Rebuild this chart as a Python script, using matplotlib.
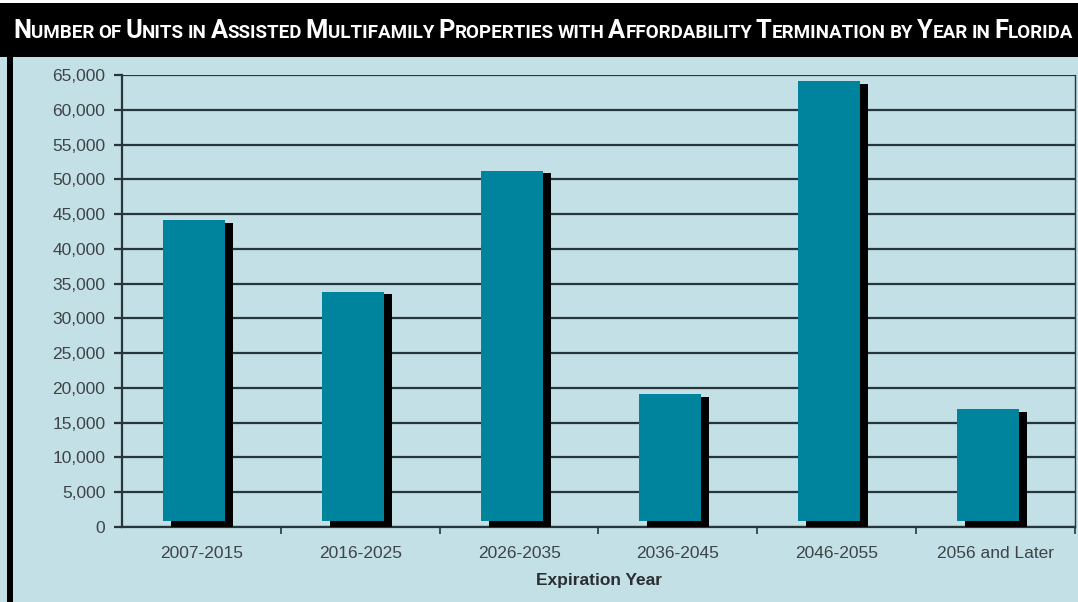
import matplotlib
matplotlib.use('Agg')
import matplotlib.pyplot as plt
from matplotlib import font_manager
from matplotlib.patches import Rectangle

categories = ['2007-2015', '2016-2025', '2026-2035', '2036-2045', '2046-2055', '2056 and Later']
units = [44100, 33800, 51200, 19100, 64100, 16950]
y_ticks = list(range(0, 65001, 5000))
title = 'Number of Units in Assisted Multifamily Properties with Affordability Termination by Year in Florida'
x_label = 'Expiration Year'

W, H = 1078, 602
bg = '#c3e0e6'
teal = '#00839c'
dark = '#26363b'

installed = {f.name for f in font_manager.fontManager.ttflist}
title_family = 'Liberation Sans Narrow' if 'Liberation Sans Narrow' in installed else 'Roboto'
plt.rcParams['font.family'] = ['Liberation Sans', 'DejaVu Sans']

fig = plt.figure(figsize=(W / 100, H / 100), dpi=100, facecolor=bg)

# black title band and left rule
fig.patches.append(Rectangle((0, 1 - 57 / H), 1, 54 / H, transform=fig.transFigure,
                             facecolor='black', edgecolor='none', zorder=0))
fig.patches.append(Rectangle((0, 1 - 3 / H), 1, 3 / H, transform=fig.transFigure,
                             facecolor='white', edgecolor='none', zorder=0))
fig.patches.append(Rectangle((7 / W, 0), 6 / W, 1 - 57 / H, transform=fig.transFigure,
                             facecolor='black', edgecolor='none', zorder=0))

ax = fig.add_axes([122 / W, 1 - 527 / H, 953 / W, 452 / H])
ax.set_facecolor(bg)

x = list(range(len(categories)))
lift = 850  # front face sits a little above the axis, shadow behind it
ax.bar([i + 0.003 for i in x], [v - 350 for v in units], width=0.39, color='black', zorder=3)
ax.bar([i - 0.047 for i in x], [v - lift for v in units], bottom=lift, width=0.39,
       color=teal, zorder=4)

ax.set_xlim(-0.5, len(categories) - 0.5)
ax.set_ylim(0, 65000)
ax.set_yticks(y_ticks)
ax.set_yticklabels([f'{t:,}' for t in y_ticks], color='#3e4447', fontsize=12.5)
ax.yaxis.grid(True, color=dark, linewidth=1.6, zorder=1)
ax.set_axisbelow(True)

ax.set_xticks(x)
ax.set_xticklabels(categories, color='#3e4447', fontsize=12.5)
ax.set_xticks([i + 0.5 for i in x], minor=True)
ax.tick_params(axis='x', which='major', length=0, pad=14)
ax.tick_params(axis='x', which='minor', length=5, width=1.2, color=dark, direction='out')
ax.tick_params(axis='y', length=6, width=1.6, color=dark, pad=6)
ax.set_xlabel(x_label, fontsize=12.5, fontweight='bold', color='#2a2f32', labelpad=8)

for side in ['left', 'bottom', 'right']:
    ax.spines[side].set_color(dark)
    ax.spines[side].set_linewidth(1.6)
ax.spines['right'].set_linewidth(1.0)
ax.spines['top'].set_visible(False)

# small-caps title built piece by piece
renderer = fig.canvas.get_renderer()
big, small = 19, 14
gap = 0.28


def draw_title(big_size, small_size, draw=True):
    pieces = []
    pos = 13
    for word in title.split():
        parts = [(word[0], big_size), (word[1:].upper(), small_size)] if word[0].isupper() \
            else [(word.upper(), small_size)]
        for txt, size in parts:
            if not txt:
                continue
            t = fig.text(pos / W, 1 - 37.5 / H, txt, fontsize=size, fontweight='bold',
                         family=title_family, color='white', va='baseline', ha='left',
                         fontstretch='condensed')
            pos += t.get_window_extent(renderer).width
            pieces.append(t)
        pos += small_size * gap
    if not draw:
        for t in pieces:
            t.remove()
    return pos


natural = draw_title(big, small, draw=False)
scale = min(1.0, (1076 - 13) / (natural - 13 - small * gap))
draw_title(big * scale, small * scale)

fig.savefig('out.png', dpi=100, facecolor=bg)
